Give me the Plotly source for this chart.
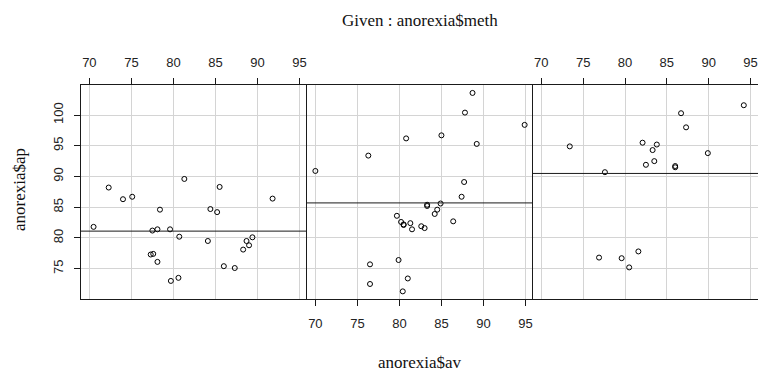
import numpy as np
import plotly.graph_objects as go

# ---- data (anorexia: pre weight av, post weight ap, by method) ----
panel_names = ["Cont", "CBT", "FT"]
cont_av = [80.7, 89.4, 91.8, 74.0, 78.1, 88.3, 87.3, 75.1, 80.6, 78.4, 77.6, 88.7, 81.3,
           78.1, 70.5, 77.3, 85.2, 86.0, 84.1, 79.7, 85.5, 84.4, 79.6, 77.5, 72.3, 89.0]
cont_ap = [80.2, 80.1, 86.4, 86.3, 76.1, 78.1, 75.1, 86.7, 73.5, 84.6, 77.4, 79.5, 89.6,
           81.4, 81.8, 77.3, 84.2, 75.4, 79.5, 73.0, 88.3, 84.7, 81.4, 81.2, 88.2, 78.8]
cbt_av = [80.5, 84.9, 81.5, 82.6, 79.9, 88.7, 94.9, 76.3, 81.0, 80.5, 85.0, 89.2, 81.3,
          76.5, 70.0, 80.4, 83.3, 83.0, 87.7, 84.2, 86.4, 76.5, 80.2, 87.8, 83.3, 79.7,
          84.5, 80.8, 87.4]
cbt_ap = [82.2, 85.6, 81.4, 81.9, 76.4, 103.6, 98.4, 93.4, 73.4, 82.1, 96.7, 95.3, 82.4,
          72.5, 90.9, 71.3, 85.4, 81.6, 89.1, 83.9, 82.7, 75.7, 82.6, 100.4, 85.2, 83.6,
          84.6, 96.2, 86.7]
ft_av = [83.8, 83.3, 86.0, 82.5, 86.7, 79.6, 76.9, 94.2, 73.4, 80.5, 81.6, 82.1, 77.6,
         83.5, 89.9, 86.0, 87.3]
ft_ap = [95.2, 94.3, 91.5, 91.9, 100.3, 76.7, 76.8, 101.6, 94.9, 75.2, 77.8, 95.5, 90.7,
         92.5, 93.8, 91.7, 98.0]
x_ticks = [70, 75, 80, 85, 90, 95]
y_ticks = [75, 80, 85, 90, 95, 100]

title_text = "Given : anorexia$meth"
x_title = "anorexia$av"
y_title = "anorexia$ap"

# ---- layout constants ----
W, H = 758, 380
px_edges = [81, 307, 533, 758]
top_px, bot_px = 85, 299.3


def extend(vals, f=0.04):
    lo, hi = min(vals), max(vals)
    d = (hi - lo) * f
    return [lo - d, hi + d]


all_av = cont_av + cbt_av + ft_av
all_ap = cont_ap + cbt_ap + ft_ap
xr = extend(all_av)
yr = extend(all_ap)

panels = [(cont_av, cont_ap), (cbt_av, cbt_ap), (ft_av, ft_ap)]

fig = go.Figure()
line_col = "#1a1a1a"
grid_col = "#d4d4d4"
tick_font = dict(family="Liberation Sans", size=13, color="#222222")

for i, (xv, yv) in enumerate(panels):
    sfx = "" if i == 0 else str(i + 1)
    fig.add_trace(go.Scatter(
        x=xv, y=yv, mode="markers", name=panel_names[i], showlegend=False,
        xaxis="x" + sfx, yaxis="y" + sfx,
        marker=dict(symbol="circle-open", size=5, color="black", line=dict(width=1, color="black")),
    ))
    fig.add_shape(type="line", xref="x" + sfx + " domain", yref="y" + sfx,
                  x0=0, x1=1, y0=float(np.mean(yv)), y1=float(np.mean(yv)),
                  line=dict(color=line_col, width=1))

    dom = [px_edges[i] / W, px_edges[i + 1] / W]
    side = "bottom" if i == 1 else "top"
    xa = dict(domain=dom, range=xr, anchor="y" + sfx, side=side,
              tickmode="array", tickvals=x_ticks, ticktext=[str(t) for t in x_ticks],
              ticks="outside", ticklen=6, tickwidth=1, tickcolor=line_col,
              tickfont=tick_font, ticklabelstandoff=6,
              showgrid=True, gridcolor=grid_col, gridwidth=1,
              showline=True, linecolor=line_col, linewidth=1, mirror=True,
              zeroline=False, automargin=False, fixedrange=True)
    ya = dict(domain=[1 - bot_px / H, 1 - top_px / H], range=yr, anchor="x" + sfx,
              tickmode="array", tickvals=y_ticks, ticktext=[str(t) for t in y_ticks],
              showgrid=True, gridcolor=grid_col, gridwidth=1,
              showline=True, linecolor=line_col, linewidth=1, mirror=False,
              zeroline=False, automargin=False, fixedrange=True)
    if i == 0:
        ya.update(ticks="outside", ticklen=6, tickwidth=1, tickcolor=line_col,
                  tickfont=tick_font, tickangle=-90, ticklabelstandoff=6)
    else:
        ya.update(ticks="", showticklabels=False, matches="y")
    fig.update_layout(**{"xaxis" + sfx: xa, "yaxis" + sfx: ya})

serif = dict(family="Liberation Serif", size=17, color="#111111")
fig.add_annotation(text=title_text, x=420 / W, y=1 - 21 / H, xref="paper", yref="paper",
                   showarrow=False, xanchor="center", yanchor="middle", font=serif)
fig.add_annotation(text=x_title, x=420 / W, y=1 - 362 / H, xref="paper", yref="paper",
                   showarrow=False, xanchor="center", yanchor="middle", font=serif)
fig.add_annotation(text=y_title, x=19 / W, y=1 - 190 / H, xref="paper", yref="paper",
                   showarrow=False, xanchor="center", yanchor="middle", textangle=-90, font=serif)

fig.update_layout(width=W, height=H, margin=dict(l=0, r=0, t=0, b=0),
                  paper_bgcolor="white", plot_bgcolor="white", showlegend=False)

fig.write_html("out.html")
